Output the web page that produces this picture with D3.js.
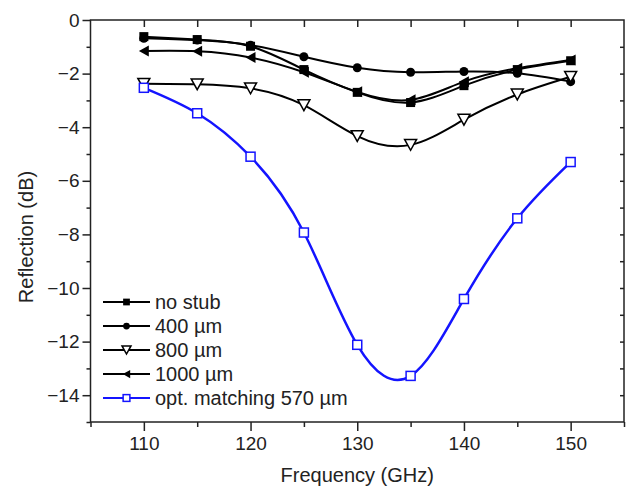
<!DOCTYPE html>
<html>
<head>
<meta charset="utf-8">
<script src="https://cdn.jsdelivr.net/npm/d3@7/dist/d3.min.js"></script>
<style>
  html, body { margin: 0; padding: 0; background: #fff; }
  svg { display: block; font-family: Arial, "Liberation Sans", Helvetica, sans-serif; }
</style>
</head>
<body>
<svg id="chart" width="627" height="488"></svg>
<script>
// ---- data ----
const frequencies = [110, 115, 120, 125, 130, 135, 140, 145, 150];
const noStub   = [-0.62, -0.73, -0.98, -1.85, -2.7, -3.08, -2.45, -1.85, -1.52];
const stub400  = [-0.68, -0.75, -0.94, -1.37, -1.78, -1.95, -1.92, -1.99, -2.3];
const stub800  = [-2.38, -2.4, -2.55, -3.18, -4.33, -4.66, -3.72, -2.78, -2.12];
const stub1000 = [-1.16, -1.17, -1.4, -1.95, -2.68, -2.98, -2.3, -1.8, -1.49];
const optMatch = [-2.53, -3.48, -5.1, -7.93, -12.12, -13.28, -10.41, -7.4, -5.3];
const seriesNames = ["no stub", "400 µm", "800 µm", "1000 µm", "opt. matching 570 µm"];
const xTickLabels = [110, 120, 130, 140, 150];
const yTickLabels = [0, -2, -4, -6, -8, -10, -12, -14];
const xLabel = "Frequency (GHz)";
const yLabel = "Reflection (dB)";

// ---- layout ----
const svg = d3.select("#chart");
const L = 90.5, R = 624, T = 20, B = 422;
const x = d3.scaleLinear().domain([105, 155]).range([L, R]);
const y = d3.scaleLinear().domain([0, -15]).range([T, B]);

const series = [
  { name: seriesNames[0], values: noStub,   color: "#000", marker: "square" },
  { name: seriesNames[1], values: stub400,  color: "#000", marker: "circle" },
  { name: seriesNames[2], values: stub800,  color: "#000", marker: "tridown" },
  { name: seriesNames[3], values: stub1000, color: "#000", marker: "trileft" },
  { name: seriesNames[4], values: optMatch, color: "#1414ff", marker: "opensquare" }
];

// ---- axes ----
const axisColor = "#222";
const bottomMajor = d3.axisBottom(x).tickValues(xTickLabels).tickSize(9).tickPadding(6).tickFormat(d3.format("d"));
const bottomMinor = d3.axisBottom(x).tickValues(d3.range(105, 156, 5).filter(v => v % 10 !== 0)).tickSize(5).tickFormat("");
const leftMajor = d3.axisLeft(y).tickValues(yTickLabels).tickSize(8).tickPadding(3).tickFormat(d3.format("d"));
const leftMinor = d3.axisLeft(y).tickValues(d3.range(-1, -16, -2)).tickSize(4).tickFormat("");
const topTicks = d3.axisTop(x).tickValues(d3.range(110, 151, 5)).tickSize(-7).tickFormat("");
const rightTicks = d3.axisRight(y).tickValues(d3.range(-1, -15, -1)).tickSize(-4).tickFormat("");

function styleAxis(g) {
  g.select(".domain").remove();
  g.selectAll(".tick line").attr("stroke", axisColor).attr("stroke-width", 1.5);
  g.selectAll(".tick text").attr("fill", "#222").style("font-size", "19px")
    .style("font-family", "Arial, 'Liberation Sans', sans-serif");
}

svg.append("g").attr("transform", `translate(0,${B})`).call(bottomMajor).call(styleAxis);
svg.append("g").attr("transform", `translate(0,${B})`).call(bottomMinor).call(styleAxis);
svg.append("g").attr("transform", `translate(${L},0)`).call(leftMajor).call(styleAxis);
svg.append("g").attr("transform", `translate(${L},0)`).call(leftMinor).call(styleAxis);
svg.append("g").attr("transform", `translate(0,${T})`).call(topTicks).call(styleAxis);
svg.append("g").attr("transform", `translate(${R},0)`).call(rightTicks).call(styleAxis);

svg.append("rect").attr("x", L).attr("y", T).attr("width", R - L).attr("height", B - T)
  .attr("fill", "none").attr("stroke", axisColor).attr("stroke-width", 1.5);

// axis titles
svg.append("text").attr("x", (L + R) / 2).attr("y", 482).attr("text-anchor", "middle")
  .style("font-size", "20px").attr("fill", "#222").text(xLabel);
svg.append("text").attr("transform", "translate(33,237) rotate(-90)").attr("text-anchor", "middle")
  .style("font-size", "20px").attr("fill", "#222").text(yLabel);

// ---- markers ----
function drawMarker(g, type, cx, cy, size, color) {
  const s = size;
  if (type === "square") {
    g.append("rect").attr("x", cx - s / 2).attr("y", cy - s / 2).attr("width", s).attr("height", s).attr("fill", color);
  } else if (type === "circle") {
    g.append("circle").attr("cx", cx).attr("cy", cy).attr("r", s / 2).attr("fill", color);
  } else if (type === "tridown") {
    const h = s * 0.9;
    g.append("path").attr("d", `M${cx - s / 2},${cy - h / 2}L${cx + s / 2},${cy - h / 2}L${cx},${cy + h / 2}Z`)
      .attr("fill", "#fff").attr("stroke", color).attr("stroke-width", 1.5);
  } else if (type === "trileft") {
    const w = s * 0.9;
    g.append("path").attr("d", `M${cx - w / 2},${cy}L${cx + w / 2},${cy - s / 2}L${cx + w / 2},${cy + s / 2}Z`)
      .attr("fill", color);
  } else if (type === "opensquare") {
    g.append("rect").attr("x", cx - s / 2).attr("y", cy - s / 2).attr("width", s).attr("height", s)
      .attr("fill", "#fff").attr("stroke", color).attr("stroke-width", 1.5);
  }
}
const markerSize = { square: 9, circle: 9, tridown: 12, trileft: 11, opensquare: 9 };

// ---- lines ----
const line = d3.line().x(d => x(d[0])).y(d => y(d[1])).curve(d3.curveNatural);
const plot = svg.append("g");
series.forEach(s => {
  const pts = frequencies.map((f, i) => [f, s.values[i]]);
  plot.append("path").attr("d", line(pts)).attr("fill", "none")
    .attr("stroke", s.color).attr("stroke-width", s.marker === "opensquare" ? 2.5 : 2);
});
series.forEach(s => {
  const g = plot.append("g");
  frequencies.forEach((f, i) => drawMarker(g, s.marker, x(f), y(s.values[i]), markerSize[s.marker], s.color));
});

// ---- legend ----
const leg = svg.append("g");
series.forEach((s, i) => {
  const ly = 302 + i * 24;
  leg.append("line").attr("x1", 103).attr("x2", 150).attr("y1", ly).attr("y2", ly)
    .attr("stroke", s.color).attr("stroke-width", 2);
  drawMarker(leg, s.marker, 126.5, ly, markerSize[s.marker] * 0.75, s.color);
  leg.append("text").attr("x", 155).attr("y", ly + 7).style("font-size", "20px").attr("fill", "#222").text(s.name);
});
</script>
</body>
</html>
